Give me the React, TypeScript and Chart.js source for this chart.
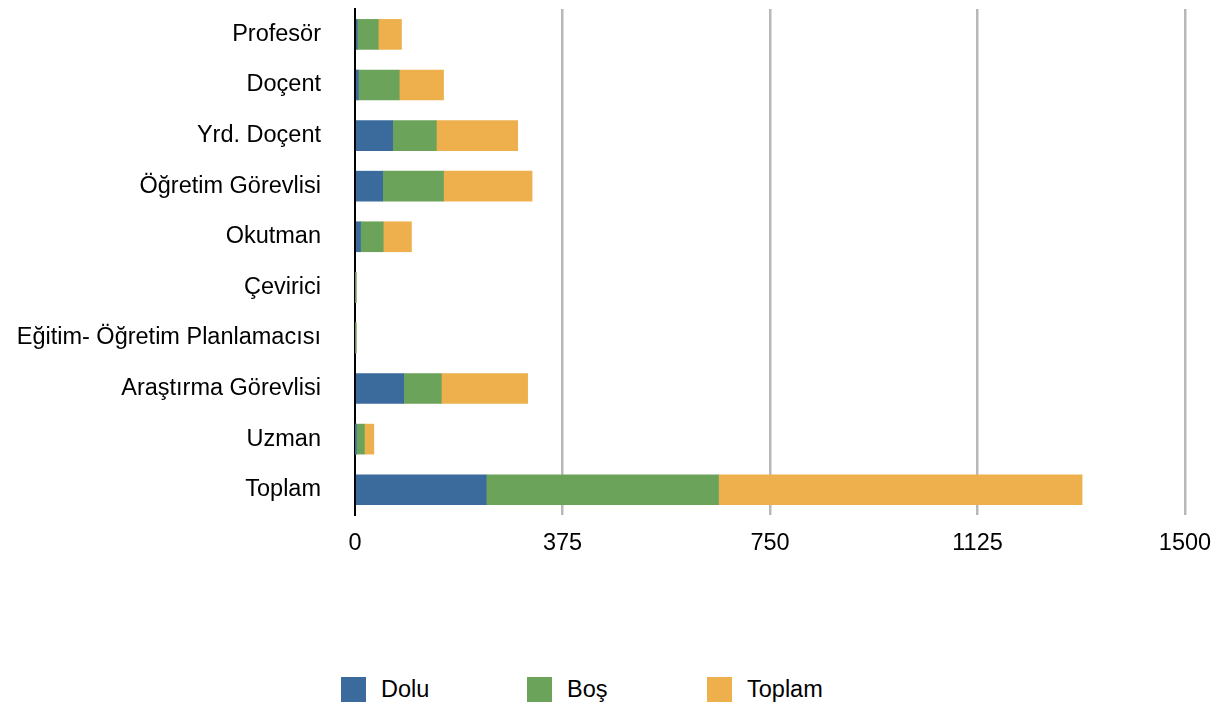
import React, { useEffect, useLayoutEffect, useRef } from "react";
import { Chart, registerables } from "chart.js";

Chart.register(...registerables);

const categories = [
  "Profesör",
  "Doçent",
  "Yrd. Doçent",
  "Öğretim Görevlisi",
  "Okutman",
  "Çevirici",
  "Eğitim- Öğretim Planlamacısı",
  "Araştırma Görevlisi",
  "Uzman",
  "Toplam",
];

const doluValues = [4, 6, 68, 50, 10, 0, 0, 88, 1, 237];
const bosValues = [38, 74, 79, 110, 41, 1, 1, 68, 16, 420];
const toplamValues = [42, 80, 147, 160, 51, 1, 1, 156, 17, 657];

const xTickLabels = ["0", "375", "750", "1125", "1500"];

const seriesNames = ["Dolu", "Boş", "Toplam"];
const seriesColors = ["#3A6B9C", "#6CA35A", "#EEB04D"];

const FONT = "'Liberation Sans', Arial, Helvetica, sans-serif";

export default function App() {
  const canvasRef = useRef<HTMLCanvasElement | null>(null);

  useLayoutEffect(() => {
    document.body.style.margin = "0";
  }, []);

  useEffect(() => {
    if (!canvasRef.current) return;
    const chart = new Chart(canvasRef.current, {
      type: "bar",
      data: {
        labels: categories,
        datasets: [
          { label: seriesNames[0], data: doluValues, backgroundColor: seriesColors[0] },
          { label: seriesNames[1], data: bosValues, backgroundColor: seriesColors[1] },
          { label: seriesNames[2], data: toplamValues, backgroundColor: seriesColors[2] },
        ],
      },
      options: {
        indexAxis: "y",
        animation: false,
        responsive: true,
        maintainAspectRatio: false,
        layout: { padding: { top: 0, right: 29, left: 0, bottom: 0 } },
        datasets: {
          bar: { barThickness: 30, borderWidth: 0 },
        },
        plugins: {
          legend: { display: false },
          tooltip: { enabled: false },
        },
        scales: {
          x: {
            stacked: true,
            min: 0,
            max: 1500,
            ticks: {
              stepSize: 375,
              padding: 0,
              color: "#000",
              font: { family: FONT, size: 23.5 },
              callback: (_v: any, i: number) => xTickLabels[i],
            },
            grid: {
              drawTicks: true,
              tickLength: 14,
              tickColor: "rgba(0,0,0,0)",
              lineWidth: 2.5,
              color: (ctx: any) => (ctx.index === 0 ? "rgba(0,0,0,0)" : "#B8B8B8"),
            },
            border: { display: false },
            afterFit: (scale: any) => {
              scale.height = 45;
            },
          },
          y: {
            stacked: true,
            ticks: {
              padding: 0,
              color: "#000",
              font: { family: FONT, size: 23.5 },
            },
            grid: {
              display: true,
              drawOnChartArea: false,
              drawTicks: true,
              tickLength: 34,
              tickColor: "rgba(0,0,0,0)",
            },
            border: { display: true, color: "#000", width: 2 },
            afterFit: (scale: any) => {
              scale.width = 347;
            },
          },
        },
      },
    });
    return () => chart.destroy();
  }, []);

  const legendLefts = [341, 527, 707];

  return (
    <div style={{ position: "relative", width: 1222, height: 704, overflow: "hidden" }}>
      <div style={{ position: "absolute", left: 8, top: -5, width: 1206, height: 565 }}>
        <canvas ref={canvasRef} />
      </div>
      {seriesNames.map((name, i) => (
        <div
          key={name}
          style={{
            position: "absolute",
            left: legendLefts[i],
            top: 677,
            height: 25,
            lineHeight: "25px",
            display: "flex",
            alignItems: "center",
            fontFamily: FONT,
            fontSize: 23.5,
            color: "#000",
            whiteSpace: "nowrap",
          }}
        >
          <span
            style={{
              display: "inline-block",
              width: 25,
              height: 25,
              background: seriesColors[i],
              marginRight: 15,
            }}
          />
          <span>{name}</span>
        </div>
      ))}
    </div>
  );
}
